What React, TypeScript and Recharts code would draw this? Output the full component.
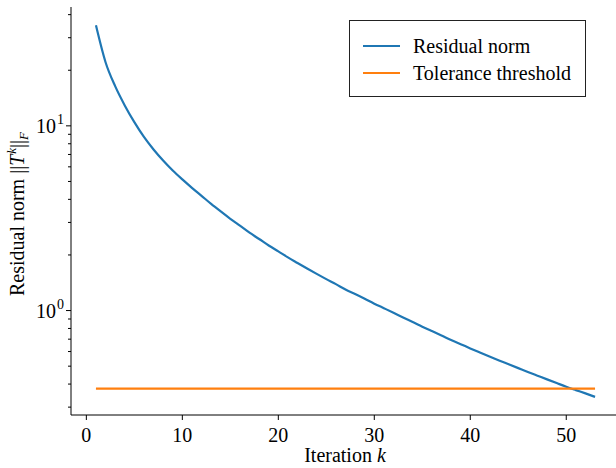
import { LineChart, Line, XAxis, YAxis } from "recharts";

// residual norm per iteration k = 1..53
const RESIDUAL = [
  35.0, 22.1, 16.4, 12.9, 10.47, 8.71, 7.45, 6.49, 5.73, 5.13, 4.62, 4.18,
  3.78, 3.44, 3.14, 2.88, 2.64, 2.44, 2.25, 2.09, 1.94, 1.81, 1.69, 1.58,
  1.48, 1.39, 1.3, 1.23, 1.16, 1.09, 1.03, 0.973, 0.918, 0.867, 0.818, 0.774,
  0.733, 0.693, 0.658, 0.624, 0.593, 0.564, 0.537, 0.512, 0.488, 0.465,
  0.444, 0.424, 0.405, 0.387, 0.371, 0.356, 0.341,
];
const TOLERANCE = 0.378;

const X_TICKS = [0, 10, 20, 30, 40, 50];
const Y_MAJOR = [1, 10];
const Y_TICKS = [
  0.3, 0.4, 0.5, 0.6, 0.7, 0.8, 0.9, 1, 2, 3, 4, 5, 6, 7, 8, 9, 10, 20, 30, 40,
];

const SERIES = [
  { key: "residual", name: "Residual norm", color: "#1f77b4" },
  { key: "tolerance", name: "Tolerance threshold", color: "#ff7f0e" },
];

const FONT = "'Liberation Serif', 'Times New Roman', serif";
const FS = 20;
const AXIS_X = 71;
const AXIS_Y = 415;

const data = RESIDUAL.map((r, i) => ({
  k: i + 1,
  residual: r,
  tolerance: TOLERANCE,
}));

const XTick = (props: any) => {
  const { x, payload } = props;
  return (
    <g>
      <line x1={x} x2={x} y1={AXIS_Y} y2={AXIS_Y + 5} stroke="#000" strokeWidth={1} />
      <text x={x} y={AXIS_Y + 27} textAnchor="middle" fontFamily={FONT} fontSize={FS} fill="#000">
        {payload.value}
      </text>
    </g>
  );
};

const YTick = (props: any) => {
  const { y, payload } = props;
  const major = Y_MAJOR.includes(payload.value);
  const len = major ? 5 : 3;
  return (
    <g>
      <line x1={AXIS_X - len} x2={AXIS_X} y1={y} y2={y} stroke="#000" strokeWidth={1} />
      {major && (
        <text x={AXIS_X - 15} y={y + 7} textAnchor="end" fontFamily={FONT} fontSize={FS} fill="#000">
          10
        </text>
      )}
      {major && (
        <text x={AXIS_X - 14} y={y - 2} textAnchor="start" fontFamily={FONT} fontSize={14} fill="#000">
          {Math.round(Math.log10(payload.value))}
        </text>
      )}
    </g>
  );
};

const LegendBox = () => (
  <div
    style={{
      position: "absolute",
      left: 349,
      top: 20,
      width: 237,
      height: 77,
      border: "1px solid #222",
      background: "#fff",
      fontFamily: FONT,
      fontSize: FS,
      boxSizing: "border-box",
    }}
  >
    {SERIES.map((s, i) => (
      <div
        key={s.key}
        style={{
          position: "absolute",
          left: 13,
          top: 12 + i * 27,
          display: "flex",
          alignItems: "center",
          height: 26,
          whiteSpace: "nowrap",
        }}
      >
        <span style={{ display: "inline-block", width: 37, height: 2, background: s.color, marginRight: 13 }} />
        <span>{s.name}</span>
      </div>
    ))}
  </div>
);

export default function App() {
  return (
    <div style={{ position: "absolute", left: 0, top: 0, width: 616, height: 468, overflow: "hidden", background: "#fff" }}>
      <LineChart width={624} height={468} data={data} margin={{ top: 7, right: 4, left: 0, bottom: 0 }}>
        <XAxis
          dataKey="k"
          type="number"
          domain={[-1.6, 55.6]}
          ticks={X_TICKS}
          tick={<XTick />}
          tickLine={false}
          axisLine={{ stroke: "#000", strokeWidth: 1 }}
          height={53}
          allowDataOverflow
        />
        <XAxis xAxisId="top" orientation="top" dataKey="k" type="number" domain={[-1.6, 55.6]} tick={false} tickLine={false} axisLine={{ stroke: "#000" }} height={0} />
        <YAxis
          scale="log"
          domain={[0.272, 44]}
          ticks={Y_TICKS}
          tick={<YTick />}
          tickLine={false}
          axisLine={{ stroke: "#000", strokeWidth: 1 }}
          width={71}
          allowDataOverflow
          interval={0}
        />
        <YAxis yAxisId="right" orientation="right" tick={false} tickLine={false} axisLine={{ stroke: "#000" }} width={0} />
        {SERIES.map((s) => (
          <Line
            key={s.key}
            type="monotone"
            dataKey={s.key}
            name={s.name}
            stroke={s.color}
            strokeWidth={2.2}
            dot={false}
            isAnimationActive={false}
          />
        ))}
        <text x={345} y={462} textAnchor="middle" fontFamily={FONT} fontSize={FS} fill="#000">
          Iteration <tspan fontStyle="italic">k</tspan>
        </text>
        <text
          transform="translate(24, 214) rotate(-90)"
          textAnchor="middle"
          fontFamily={FONT}
          fontSize={FS}
          fill="#000"
        >
          Residual norm ||<tspan fontStyle="italic">T</tspan>
          <tspan fontStyle="italic" fontSize={13} dx={1} dy={-8}>k</tspan>
          <tspan dy={8}>||</tspan>
          <tspan fontStyle="italic" fontSize={13} dy={4}>F</tspan>
        </text>
      </LineChart>
      <LegendBox />
    </div>
  );
}
